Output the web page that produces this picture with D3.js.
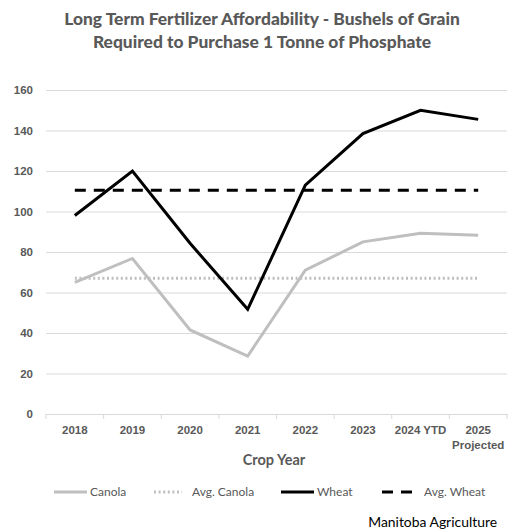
<!DOCTYPE html>
<html>
<head>
<meta charset="utf-8">
<script src="https://cdn.jsdelivr.net/npm/d3@7"></script>
<style>
  body { margin: 0; background: #fff; }
  svg { font-family: Lato, "Open Sans", sans-serif; }
  .tick text { fill: #595959; font-weight: bold; font-size: 11.5px; }
</style>
</head>
<body>
<svg id="chart" width="527" height="532"></svg>
<script>
const years = ["2018", "2019", "2020", "2021", "2022", "2023", "2024 YTD", "2025 Projected"];
const canola = [65, 76.8, 41.5, 28.6, 71, 85, 89.2, 88.3];
const wheat = [98, 120, 84.3, 51.7, 113, 138.5, 150, 145.5];
const avgCanola = 67;
const avgWheat = 110.5;
const yTicks = [0, 20, 40, 60, 80, 100, 120, 140, 160];

const width = 527, height = 532;
const margin = {top: 90, right: 20, bottom: 118, left: 46};
const innerW = width - margin.left - margin.right;
const innerH = height - margin.top - margin.bottom;

const svg = d3.select("#chart");

const x = d3.scaleBand().domain(years).range([0, innerW]);
const y = d3.scaleLinear().domain([0, 160]).range([innerH, 0]);
const cx = d => x(d) + x.bandwidth() / 2;

const g = svg.append("g")
    .attr("transform", `translate(${margin.left},${margin.top})`);

// gridlines + y labels
const yAxis = d3.axisLeft(y)
    .tickValues(yTicks)
    .tickSize(-innerW)
    .tickPadding(13);
g.append("g")
    .attr("class", "axis y")
    .call(yAxis)
    .call(s => s.select(".domain").remove())
    .call(s => s.selectAll(".tick line").attr("stroke", "#d9d9d9"));

// x axis: labels at centres, tick marks at band edges
const xAxis = d3.axisBottom(x).tickSize(0).tickPadding(12);
const xg = g.append("g")
    .attr("class", "axis x")
    .attr("transform", `translate(0,${innerH})`)
    .call(xAxis);
xg.select(".domain").attr("stroke", "#d9d9d9");
xg.selectAll(".tick text").each(function(d) {
    const parts = d === "2025 Projected" ? ["2025", "Projected"] : [d];
    const t = d3.select(this).text(null);
    parts.forEach((p, i) => t.append("tspan").attr("x", 0).attr("dy", i ? "1.25em" : "0.71em").text(p));
});
const edges = years.map(d => x(d)).concat([innerW]);
xg.selectAll(".edge")
    .data(edges)
    .enter()
    .append("line")
    .attr("class", "edge")
    .attr("x1", d => d).attr("x2", d => d)
    .attr("y1", 0).attr("y2", 5)
    .attr("stroke", "#d9d9d9");

// series
const line = d3.line().x((d, i) => cx(years[i])).y(d => y(d));

const series = [
    {name: "Canola", values: canola, color: "#bfbfbf", dash: null},
    {name: "Avg. Canola", values: years.map(() => avgCanola), color: "#bfbfbf", dash: "2,2.6"},
    {name: "Wheat", values: wheat, color: "#000", dash: null},
    {name: "Avg. Wheat", values: years.map(() => avgWheat), color: "#000", dash: "11,8"}
];
const drawOrder = [1, 0, 3, 2];
drawOrder.forEach(i => {
    const s = series[i];
    g.append("path")
        .datum(s.values)
        .attr("fill", "none")
        .attr("stroke", s.color)
        .attr("stroke-width", 3)
        .attr("stroke-dasharray", s.dash)
        .attr("d", line);
});

// title
svg.append("text")
    .attr("x", 262)
    .attr("text-anchor", "middle")
    .attr("fill", "#595959")
    .attr("font-weight", 900)
    .attr("font-size", 17.4)
    .selectAll("tspan")
    .data(["Long Term Fertilizer Affordability - Bushels of Grain", "Required to Purchase 1 Tonne of Phosphate"])
    .enter()
    .append("tspan")
    .attr("x", 262)
    .attr("y", (d, i) => 25 + i * 23)
    .text(d => d);

// axis title
svg.append("text")
    .attr("x", 274)
    .attr("y", 465)
    .attr("text-anchor", "middle")
    .attr("fill", "#595959")
    .attr("font-weight", "bold")
    .attr("font-size", 14.5)
    .text("Crop Year");

// legend
const legendX = [54, 154, 281, 382];
const legend = svg.append("g").attr("transform", "translate(0,492)");
series.forEach((s, i) => {
    const lg = legend.append("g").attr("transform", `translate(${legendX[i]},0)`);
    lg.append("line")
        .attr("x1", 0).attr("x2", i === 1 ? 28 : 33)
        .attr("y1", 0).attr("y2", 0)
        .attr("stroke", s.color)
        .attr("stroke-width", 3)
        .attr("stroke-dasharray", s.dash);
    lg.append("text")
        .attr("x", i === 1 ? 38 : i === 3 ? 42 : 36)
        .attr("dy", "0.35em")
        .attr("fill", "#595959")
        .attr("font-size", 12)
        .text(s.name);
});

svg.append("text")
    .attr("x", 497)
    .attr("y", 527)
    .attr("text-anchor", "end")
    .attr("fill", "#000")
    .attr("font-size", 13.9)
    .text("Manitoba Agriculture");
</script>
</body>
</html>
